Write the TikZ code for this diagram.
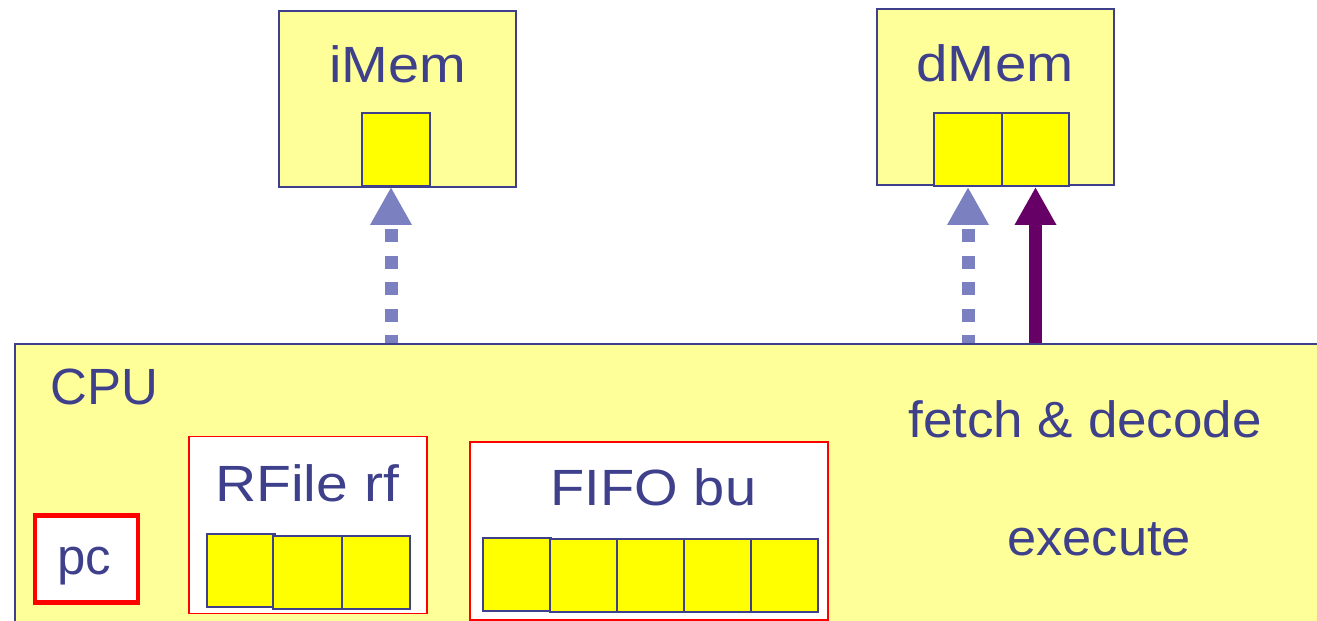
\documentclass[tikz,border=0pt]{standalone}
\usepackage{fontspec}
\setmainfont{Liberation Sans}
\usetikzlibrary{arrows.meta}
\definecolor{memyellow}{RGB}{255,255,153}
\definecolor{cellyellow}{RGB}{255,255,0}
\definecolor{inkblue}{RGB}{62,64,140}
\definecolor{linkblue}{RGB}{123,128,192}
\definecolor{storepurple}{RGB}{102,0,102}
\definecolor{boxred}{RGB}{255,0,0}
\newcommand{\wide}[2]{\scalebox{#1}[1]{#2}}
\tikzset{
  unit/.style={x=0.02cm,y=-0.02cm},
  block/.style={draw=inkblue,line width=1.1pt,fill=memyellow,inner sep=0pt},
  cell/.style={draw=inkblue,line width=1.1pt,fill=cellyellow,inner sep=0pt,
    minimum width=1.36cm,minimum height=1.46cm},
  module/.style={draw=boxred,line width=1.1pt,fill=white,inner sep=0pt},
  label/.style={text=inkblue,inner sep=0pt,font=\fontsize{29}{34}\selectfont},
  reqarrow/.style={draw=linkblue,line width=0.26cm,line cap=butt,
    dash pattern=on 0.26cm off 0.27cm,dash phase=0.1cm,
    -{Triangle[length=0.76cm,width=0.78cm,fill=linkblue]}},
  storearrow/.style={draw=storepurple,line width=0.26cm,
    -{Triangle[length=0.76cm,width=0.78cm,fill=storepurple]}},
}
\begin{document}
\begin{tikzpicture}[unit]
\useasboundingbox (0,0) rectangle (1317,621);

% memories
\node[block,minimum width=4.74cm,minimum height=3.52cm] (imem) at (397.5,99) {};
\node[cell] (icell) at (396,149.5) {};
\node[label,anchor=base] (imemlbl) at (397.5,83) {\wide{1.1}{iMem}};

\node[block,minimum width=4.74cm,minimum height=3.52cm] (dmem) at (995.5,97) {};
\node[cell] (dcella) at (968,149.5) {};
\node[cell,minimum width=1.34cm] (dcellb) at (1035.5,149.5) {};
\node[label,anchor=base] (dmemlbl) at (995,82) {\wide{1.11}{dMem}};

% processor
\node[block,minimum width=26.3cm,minimum height=5.92cm] (cpu) at (672.5,492) {};
\node[label,anchor=base west] (cpulbl) at (50,404) {CPU};
\node[label,anchor=base west] (fdlbl) at (908,437) {\wide{1.04}{fetch \& decode}};
\node[label,anchor=base west] (exlbl) at (1007,555) {\wide{1.03}{execute}};

% program counter
\node[draw=boxred,line width=2.3pt,fill=white,inner sep=0pt,
  minimum width=2.06cm,minimum height=1.74cm] (pc) at (86.5,559) {};
\node[label,anchor=base] (pclbl) at (84,574) {pc};

% register file
\node[module,minimum width=4.76cm,minimum height=3.54cm] (rf) at (308,525) {};
\node[label,anchor=base] (rflbl) at (307,501) {\wide{1.12}{RFile rf}};
\node[cell] (rfa) at (241,570.5) {};
\node[cell,minimum width=1.38cm] (rfb) at (307.5,572.5) {};
\node[cell] (rfc) at (376,572.5) {};

% fifo
\node[module,minimum width=7.16cm,minimum height=3.56cm] (bu) at (649,531) {};
\node[label,anchor=base] (bulbl) at (653.5,505) {\wide{1.1}{FIFO bu}};
\node[cell] (bua) at (517,574.5) {};
\node[cell,minimum width=1.34cm] (bub) at (583.5,575.5) {};
\node[cell,minimum width=1.34cm] (buc) at (650.5,575.5) {};
\node[cell,minimum width=1.34cm] (bud) at (717.5,575.5) {};
\node[cell,minimum width=1.34cm] (bue) at (784.5,575.5) {};

% memory requests
\draw[reqarrow] ([xshift=-0.1cm]cpu.north -| icell.south) -- ([xshift=-0.1cm]icell.south);
\draw[reqarrow] (cpu.north -| dcella.south) -- (dcella.south);
\draw[storearrow] (cpu.north -| dcellb.south) -- (dcellb.south);
\end{tikzpicture}
\end{document}
